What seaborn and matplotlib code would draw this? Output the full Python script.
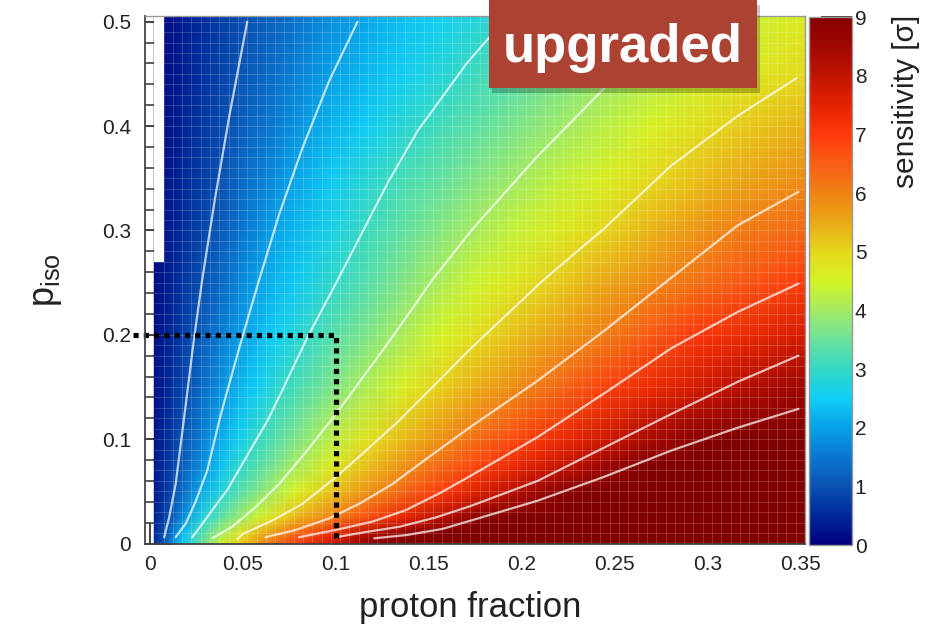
import numpy as np
import matplotlib
matplotlib.use("Agg")
import matplotlib.pyplot as plt
import seaborn as sns
from matplotlib.colors import LinearSegmentedColormap
from matplotlib.patches import Rectangle
from matplotlib.ticker import MultipleLocator

# ---------------- data ----------------
fraction_nodes = [0.0025, 0.0088, 0.0137, 0.0186, 0.0285, 0.0383, 0.0482, 0.0581, 0.0679, 0.0778,
                  0.0975, 0.1172, 0.1369, 0.1567, 0.1764, 0.1961, 0.2208, 0.2454, 0.2701, 0.2947,
                  0.3194, 0.3525]
piso_nodes = [0.0, 0.01, 0.025, 0.05, 0.075, 0.1, 0.15, 0.2, 0.25, 0.3, 0.35, 0.4, 0.45, 0.5055]

sens_p000 = [0.56, 1.17, 2.0, 2.56, 3.55, 4.36, 5.07, 5.73, 6.32, 6.84, 7.85, 8.81, 9.76, 10.71, 11.67, 12, 12, 12, 12, 12, 12, 12]
sens_p010 = [0.52, 1.04, 1.73, 2.33, 3.29, 4.0, 4.77, 5.34, 5.82, 6.31, 7.27, 8.13, 8.77, 9.43, 10.1, 10.77, 11.6, 12, 12, 12, 12, 12]
sens_p025 = [0.42, 0.83, 1.3, 1.8, 2.77, 3.38, 3.89, 4.41, 4.94, 5.31, 6.0, 6.73, 7.42, 8.13, 8.96, 9.66, 10.5, 11.33, 12, 12, 12, 12]
sens_p050 = [0.34, 0.68, 1.02, 1.39, 2.11, 2.77, 3.27, 3.68, 4.09, 4.5, 5.2, 5.79, 6.38, 6.97, 7.54, 8.19, 8.92, 9.6, 10.3, 11, 11.7, 12]
sens_p075 = [0.3, 0.6, 0.9, 1.2, 1.8, 2.36, 2.9, 3.29, 3.64, 3.99, 4.67, 5.27, 5.8, 6.33, 6.84, 7.32, 7.89, 8.58, 9.28, 10, 10.7, 11.5]
sens_p100 = [0.27, 0.54, 0.81, 1.08, 1.61, 2.12, 2.56, 3.0, 3.32, 3.63, 4.25, 4.83, 5.34, 5.83, 6.3, 6.75, 7.3, 7.83, 8.37, 8.93, 9.5, 10.05]
sens_p150 = [0.23, 0.45, 0.68, 0.91, 1.36, 1.81, 2.2, 2.53, 2.86, 3.15, 3.65, 4.14, 4.63, 5.09, 5.47, 5.85, 6.37, 6.91, 7.34, 7.75, 8.16, 8.6]
sens_p200 = [0.2, 0.39, 0.59, 0.78, 1.17, 1.55, 1.92, 2.23, 2.52, 2.8, 3.28, 3.69, 4.11, 4.52, 4.92, 5.26, 5.66, 6.07, 6.56, 7.04, 7.34, 7.7]
sens_p250 = [0.17, 0.34, 0.5, 0.67, 1.01, 1.33, 1.66, 1.98, 2.22, 2.46, 2.93, 3.33, 3.72, 4.1, 4.43, 4.76, 5.16, 5.52, 5.89, 6.25, 6.6, 6.98]
sens_p300 = [0.14, 0.29, 0.43, 0.57, 0.86, 1.15, 1.44, 1.74, 2.02, 2.24, 2.67, 3.08, 3.42, 3.75, 4.07, 4.34, 4.68, 5.03, 5.39, 5.76, 6.09, 6.38]
sens_p350 = [0.13, 0.25, 0.38, 0.51, 0.76, 1.01, 1.27, 1.52, 1.78, 2.03, 2.44, 2.85, 3.17, 3.44, 3.7, 3.97, 4.3, 4.64, 4.98, 5.26, 5.54, 5.84]
sens_p400 = [0.11, 0.23, 0.34, 0.46, 0.69, 0.92, 1.14, 1.36, 1.58, 1.8, 2.19, 2.53, 2.88, 3.16, 3.4, 3.64, 3.95, 4.25, 4.57, 4.88, 5.14, 5.4]
sens_p450 = [0.1, 0.2, 0.31, 0.41, 0.61, 0.82, 1.02, 1.21, 1.4, 1.6, 1.98, 2.27, 2.56, 2.84, 3.1, 3.33, 3.63, 3.92, 4.18, 4.44, 4.69, 4.97]
sens_p500 = [0.09, 0.18, 0.28, 0.37, 0.55, 0.74, 0.92, 1.09, 1.26, 1.42, 1.76, 2.06, 2.33, 2.56, 2.8, 3.04, 3.34, 3.61, 3.89, 4.13, 4.37, 4.65]

# empty bins at the left edge (not filled in the original histogram)
empty_bin_x = (0.0025, 0.0075)
empty_above_piso = 0.27

# contour lines (sensitivity = 1 ... 9 sigma)
c1_x = [0.0078, 0.0105, 0.0140, 0.0185, 0.0240, 0.0283, 0.0352, 0.0430, 0.0525]
c1_y = [0.006, 0.025, 0.057, 0.12, 0.198, 0.253, 0.331, 0.411, 0.500]
c2_x = [0.0140, 0.0194, 0.0247, 0.0310, 0.0375, 0.0408, 0.0499, 0.0588, 0.0696, 0.0822, 0.0965, 0.1118]
c2_y = [0.006, 0.019, 0.040, 0.070, 0.118, 0.140, 0.198, 0.252, 0.315, 0.379, 0.443, 0.500]
c3_x = [0.0230, 0.0284, 0.0337, 0.0420, 0.0530, 0.0635, 0.0695, 0.0850, 0.1010, 0.1285, 0.1440, 0.1705, 0.1900]
c3_y = [0.006, 0.019, 0.032, 0.052, 0.086, 0.118, 0.140, 0.198, 0.252, 0.347, 0.395, 0.460, 0.500]
c4_x = [0.0337, 0.0444, 0.0571, 0.0696, 0.0847, 0.0975, 0.1068, 0.1306, 0.1522, 0.1740, 0.2075, 0.2444, 0.2799]
c4_y = [0.005, 0.016, 0.035, 0.057, 0.089, 0.118, 0.140, 0.198, 0.253, 0.302, 0.369, 0.436, 0.500]
c5_x = [0.0472, 0.0499, 0.0660, 0.0822, 0.0984, 0.1145, 0.1343, 0.1728, 0.2115, 0.2446, 0.2805, 0.3165, 0.3480]
c5_y = [0.004, 0.009, 0.022, 0.038, 0.061, 0.086, 0.118, 0.187, 0.252, 0.302, 0.362, 0.410, 0.446]
c6_x = [0.0624, 0.0786, 0.0965, 0.1127, 0.1306, 0.1503, 0.1728, 0.2087, 0.2446, 0.2787, 0.3164, 0.3490]
c6_y = [0.006, 0.013, 0.024, 0.038, 0.057, 0.083, 0.112, 0.156, 0.204, 0.252, 0.305, 0.337]
c7_x = [0.0803, 0.1002, 0.1199, 0.1378, 0.1558, 0.1728, 0.2087, 0.2446, 0.2805, 0.3164, 0.3490]
c7_y = [0.006, 0.013, 0.021, 0.032, 0.048, 0.065, 0.102, 0.144, 0.187, 0.222, 0.249]
c8_x = [0.1002, 0.1162, 0.1343, 0.1540, 0.1728, 0.2087, 0.2446, 0.2805, 0.3164, 0.3490]
c8_y = [0.006, 0.011, 0.016, 0.025, 0.036, 0.060, 0.092, 0.124, 0.155, 0.180]
c9_x = [0.1208, 0.1378, 0.1576, 0.1728, 0.2087, 0.2446, 0.2805, 0.3164, 0.3490]
c9_y = [0.005, 0.008, 0.014, 0.022, 0.041, 0.064, 0.089, 0.111, 0.129]

# working point marker (dotted corner)
cut_x = [-0.009, 0.1, 0.1]
cut_y = [0.2, 0.2, 0.0]

x_ticks = [0, 0.05, 0.1, 0.15, 0.2, 0.25, 0.3, 0.35]
x_tick_labels = ["0", "0.05", "0.1", "0.15", "0.2", "0.25", "0.3", "0.35"]
y_ticks = [0, 0.1, 0.2, 0.3, 0.4, 0.5]
y_tick_labels = ["0", "0.1", "0.2", "0.3", "0.4", "0.5"]
cbar_ticks = [0, 1, 2, 3, 4, 5, 6, 7, 8, 9]
cbar_tick_labels = ["0", "1", "2", "3", "4", "5", "6", "7", "8", "9"]

# ---------------- style ----------------
sns.set_theme(style="white")
plt.rcParams["font.family"] = ["Liberation Sans", "DejaVu Sans"]
plt.rcParams["mathtext.default"] = "regular"
text_color = "#222222"

cmap_pos = [0.0, 0.5, 1.0, 1.5, 2.0, 2.5, 3.0, 3.5, 4.0, 4.5, 5.0, 5.5, 6.0, 6.5, 7.0, 7.5, 8.0, 8.5, 9.0]
cmap_cols = ["#00007c", "#002a9a", "#0a52b2", "#0a78d0", "#08a2e8", "#10cef6", "#34d8c4", "#6ce29c",
             "#a4ea62", "#d4f424", "#e6d81c", "#eaaa18", "#f08214", "#f85e16", "#ff3a0c", "#e42200",
             "#c21400", "#a00800", "#860000"]
cmap = LinearSegmentedColormap.from_list("sens", [(p / 9.0, c) for p, c in zip(cmap_pos, cmap_cols)])
cmap.set_over("#800000")

fig = plt.figure(figsize=(9.36, 6.3), dpi=100)
ax = fig.add_axes([0.1549, 0.1373, 0.7051, 0.8373])
cax = fig.add_axes([0.8643, 0.1349, 0.0459, 0.8381])

Z = np.array([sens_p000, sens_p010, sens_p025, sens_p050, sens_p075, sens_p100, sens_p150,
              sens_p200, sens_p250, sens_p300, sens_p350, sens_p400, sens_p450, sens_p500])
mesh = ax.pcolormesh(fraction_nodes, piso_nodes, Z, shading="gouraud", cmap=cmap,
                     vmin=0, vmax=9, zorder=1, rasterized=True)

ax.add_patch(Rectangle((empty_bin_x[0], empty_above_piso), empty_bin_x[1] - empty_bin_x[0],
                       0.6, facecolor="white", edgecolor="none", zorder=2))

# faint bin borders of the 2D histogram
bin_edges_x = np.arange(0.0075, 0.3525, 0.005)
bin_edges_y = np.arange(0.01, 0.505, 0.01)
ax.vlines(bin_edges_x, 0, 0.5055, colors="white", alpha=0.18, lw=0.7, zorder=3)
ax.hlines(bin_edges_y, 0.0025, 0.3525, colors="white", alpha=0.18, lw=0.7, zorder=3)

for xs, ys in [(c1_x, c1_y), (c2_x, c2_y), (c3_x, c3_y), (c4_x, c4_y), (c5_x, c5_y),
               (c6_x, c6_y), (c7_x, c7_y), (c8_x, c8_y), (c9_x, c9_y)]:
    sns.lineplot(x=xs, y=ys, sort=False, estimator=None, color="white", alpha=0.72,
                 lw=1.6, ax=ax, legend=False, zorder=4, solid_joinstyle="round",
                 solid_capstyle="round")

ax.plot(cut_x, cut_y, color="black", lw=3.7, linestyle=(0, (1, 1)), dash_capstyle="butt",
        clip_on=False, zorder=6)

ax.set_xlim(-0.0025, 0.3525)
ax.set_ylim(0, 0.5055)
ax.set_xlabel("")
ax.set_ylabel("")
ax.set_xticks(x_ticks)
ax.set_xticklabels(x_tick_labels)
ax.set_yticks(y_ticks)
ax.set_yticklabels(y_tick_labels)
ax.xaxis.set_minor_locator(MultipleLocator(0.01))
ax.yaxis.set_minor_locator(MultipleLocator(0.02))
ax.tick_params(axis="x", which="major", direction="in", length=15, width=1.3, color="#333333",
               labelsize=15, labelcolor=text_color, pad=8, bottom=True, top=False)
ax.tick_params(axis="x", which="minor", direction="in", length=8, width=1.1, color="#333333",
               bottom=True, top=False)
ax.tick_params(axis="y", which="major", direction="in", length=20, width=1.3, color="#333333",
               labelsize=15, labelcolor=text_color, pad=10, left=True, right=False)
ax.tick_params(axis="y", which="minor", direction="in", length=11, width=1.1, color="#333333",
               left=True, right=False)
for s in ["left", "bottom"]:
    ax.spines[s].set_color("#444444")
    ax.spines[s].set_linewidth(1.3)
for s in ["top", "right"]:
    ax.spines[s].set_color("#999999")
    ax.spines[s].set_linewidth(1.0)
for s in ax.spines.values():
    s.set_zorder(7)

cb = fig.colorbar(mesh, cax=cax)
cb.set_ticks(cbar_ticks)
cb.set_ticklabels(cbar_tick_labels)
cax.tick_params(direction="in", length=22, width=1.3, color="#333333", labelsize=15,
                labelcolor=text_color, pad=2, right=True, left=False)
cax.minorticks_off()
cb.outline.set_edgecolor("#999999")
cb.outline.set_linewidth(1.0)

fig.text(0.502, 0.02, "proton fraction", ha="center", va="baseline", fontsize=25, color=text_color)
fig.text(0.05, 0.556, r"$\mathregular{p_{iso}}$", rotation=90, ha="center", va="center",
         fontsize=26, color=text_color)
fig.text(0.968, 0.976, "sensitivity [σ]", rotation=90, ha="center", va="top",
         fontsize=21.5, color=text_color)

# "upgraded" tag
fig.add_artist(Rectangle((0.5254, 0.8523), 0.2863, 0.1397, transform=fig.transFigure,
                         facecolor="black", alpha=0.22, edgecolor="none", zorder=9))
fig.add_artist(Rectangle((0.5224, 0.8603), 0.2863, 0.1397, transform=fig.transFigure,
                         facecolor="#ab4232", edgecolor="none", zorder=10))
fig.text(0.665, 0.9016, "upgraded", color="white", fontsize=38, fontweight="bold",
         ha="center", va="baseline", zorder=11)

fig.savefig("out.png", dpi=100)
